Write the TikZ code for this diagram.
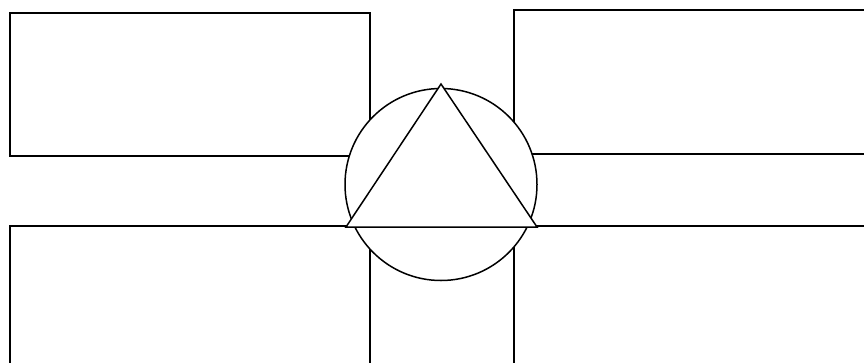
\documentclass[tikz,border=0pt]{standalone}
\begin{document}
\begin{tikzpicture}[x=1pt,y=-1pt,
  panel/.style={draw=black,line width=1.9pt,fill=white,rectangle,inner sep=0pt,anchor=north west},
  disc/.style={draw=black,line width=1.5pt,fill=white,circle,inner sep=0pt,minimum size=192pt},
  tri/.style={draw=black,line width=1.5pt,fill=white,line join=miter}]
\useasboundingbox (0,0) rectangle (864,362);
\clip (0,0) rectangle (864,362);
\node[panel,minimum width=360pt,minimum height=143pt] (tl) at (9,12) {};
\node[panel,minimum width=360pt,minimum height=144pt] (tr) at (513,9) {};
\node[panel,minimum width=360pt,minimum height=150pt] (bl) at (9,225) {};
\node[panel,minimum width=360pt,minimum height=150pt] (br) at (513,225) {};
\node[disc] (c) at (441,184.5) {};
\coordinate (apex) at (441,84);
\coordinate (bleft) at (346,227);
\coordinate (bright) at (537,227);
\draw[tri] (apex) -- (bleft) -- (bright) -- cycle;
\end{tikzpicture}
\end{document}
